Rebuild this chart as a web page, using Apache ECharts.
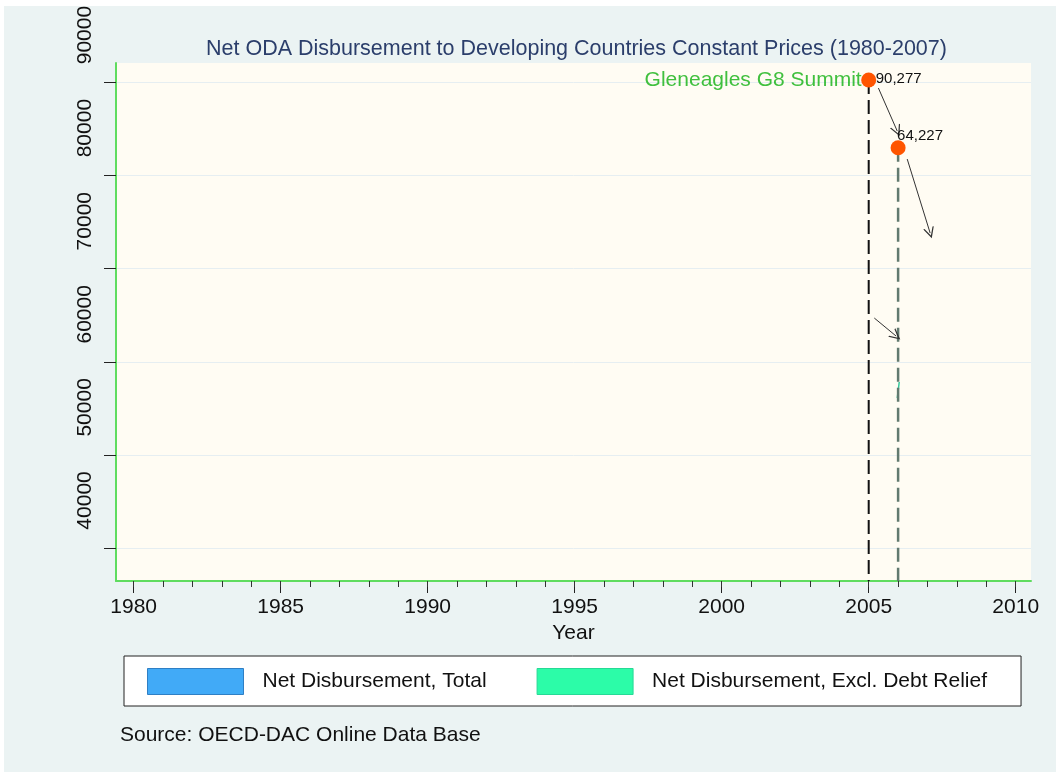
<!DOCTYPE html>
<html>
<head>
<meta charset="utf-8">
<title>Net ODA Disbursement</title>
<script src="https://cdn.jsdelivr.net/npm/echarts@6/dist/echarts.min.js"></script>
<style>
  html, body { margin: 0; padding: 0; background: #fff; }
  #main { width: 1056px; height: 772px; }
</style>
</head>
<body>
<div id="main"></div>
<script>
// axis ticks
var years = [1980, 1981, 1982, 1983, 1984, 1985, 1986, 1987, 1988, 1989, 1990,
    1991, 1992, 1993, 1994, 1995, 1996, 1997, 1998, 1999, 2000,
    2001, 2002, 2003, 2004, 2005, 2006, 2007, 2008, 2009, 2010];
var majorYears = [1980, 1985, 1990, 1995, 2000, 2005, 2010];
var yTicks = [40000, 50000, 60000, 70000, 80000, 90000];

// marked points (drawn position) and the text printed next to them
var markerYears = [2005, 2006];
var markerValues = [90277, 83000];
var markerLabels = ['90,277', '64,227'];
var eventName = 'Gleneagles G8 Summit';

// arrows: start and end points
var arrowFrom = [[2005.33, 89410], [2006.31, 81780], [2005.19, 64700]];
var arrowTo = [[2005.97, 84790], [2007.09, 73830], [2005.93, 62770]];

// the only visible piece of the "excl. debt relief" line
var exclYears = [2006.04, 2005.97];
var exclValues = [57830, 56110];

var seriesNames = ['Net Disbursement, Total', 'Net Disbursement, Excl. Debt Relief'];

var xMin = 1979.4, xMax = 2010.52;
var yMin = 36450, yMax = 92100;

var font = 'Liberation Sans, Arial, Helvetica, sans-serif';
var myChart = echarts.init(document.getElementById('main'));

var arrowHead = 'path://M5,0L10,12L8.8,12L5,3.2L1.2,12L0,12Z';
var plain = function (v) { return String(v); };

var option = {
    backgroundColor: '#fff',
    animation: false,
    textStyle: { fontFamily: font },
    graphic: [{
        type: 'rect', left: 4, top: 6, z: -10, silent: true,
        shape: { width: 1052, height: 766 },
        style: { fill: '#ebf3f3' }
    }],
    title: [{
        text: 'Net ODA Disbursement to Developing Countries Constant Prices (1980-2007)',
        left: 206, top: 38, padding: 0,
        textStyle: { fontSize: 21.5, fontWeight: 'normal', color: '#2b3e6b', fontFamily: font }
    }, {
        text: 'Source: OECD-DAC Online Data Base',
        left: 120, top: 725, padding: 0,
        textStyle: { fontSize: 21, fontWeight: 'normal', color: '#111', fontFamily: font }
    }],
    legend: {
        data: [
            { name: seriesNames[0], icon: 'rect', itemStyle: { color: '#41aaf7', borderColor: '#2f7fc4', borderWidth: 1 } },
            { name: seriesNames[1], icon: 'rect', itemStyle: { color: '#2cfca8', borderColor: '#27d996', borderWidth: 1 } }
        ],
        left: 124, top: 656,
        padding: [12, 34, 11, 23],
        itemWidth: 96, itemHeight: 26, itemGap: 50,
        selectedMode: false,
        backgroundColor: '#fff', borderColor: '#222', borderWidth: 1,
        textStyle: { fontSize: 21, color: '#111', padding: [0, 0, 0, 14], fontFamily: font }
    },
    grid: [
        { left: 116, right: 25, top: 63, bottom: 191, show: true, backgroundColor: '#fffcf3', borderWidth: 0, containLabel: false, outerBoundsMode: 'none' },
        { left: 116, right: 25, top: 63, bottom: 191, containLabel: false, outerBoundsMode: 'none' }
    ],
    xAxis: [{
        type: 'value', gridIndex: 0, min: xMin, max: xMax,
        name: 'Year', nameLocation: 'middle', nameGap: 42,
        nameTextStyle: { fontSize: 21, color: '#111', fontFamily: font },
        axisLine: { show: true, lineStyle: { color: '#5fdc5f', width: 2 } },
        axisTick: { show: true, customValues: majorYears, length: 12, lineStyle: { color: '#222' } },
        axisLabel: { customValues: majorYears, formatter: plain, fontSize: 21, margin: 16, color: '#111', fontFamily: font },
        splitLine: { show: false }
    }, {
        type: 'value', gridIndex: 1, min: xMin, max: xMax,
        axisLine: { show: false },
        axisTick: { show: true, customValues: years, length: 6, lineStyle: { color: '#333' } },
        axisLabel: { show: false },
        splitLine: { show: false }
    }],
    yAxis: [{
        type: 'value', gridIndex: 0, min: yMin, max: yMax,
        axisLine: { show: true, lineStyle: { color: '#5fdc5f', width: 2 } },
        axisTick: { show: true, customValues: yTicks, length: 12, lineStyle: { color: '#222' } },
        axisLabel: {
            customValues: yTicks, formatter: plain, rotate: 90, margin: 20, fontSize: 21, color: '#111',
            padding: [0, 0, 0, 95], fontFamily: font
        },
        splitLine: { show: true, lineStyle: { color: '#e6eef1', width: 1 } }
    }, {
        type: 'value', gridIndex: 1, min: yMin, max: yMax, show: false
    }],
    series: [
        {
            name: seriesNames[0], type: 'line', data: [],
            itemStyle: { color: '#41aaf7' }, symbol: 'none'
        },
        {
            name: seriesNames[1], type: 'line', symbol: 'none', z: 3,
            data: exclYears.map(function (x, i) { return [x, exclValues[i]]; }),
            itemStyle: { color: '#2cfca8' },
            lineStyle: { color: '#35c89c', width: 1.5 }
        },
        {
            name: 'line2005', type: 'line', symbol: 'none', silent: true, z: 3,
            data: [[markerYears[0], markerValues[0]], [markerYears[0], yMin]],
            lineStyle: { color: '#111', width: 2, type: [14, 6] }
        },
        {
            name: 'line2006', type: 'line', symbol: 'none', silent: true, z: 3,
            data: [[markerYears[1], markerValues[1]], [markerYears[1], yMin]],
            lineStyle: { color: '#627a6f', width: 2.5, type: [14, 6] }
        },
        {
            name: 'arrows', type: 'lines', coordinateSystem: 'cartesian2d', silent: true, z: 4,
            symbol: ['none', arrowHead], symbolSize: [9, 11],
            lineStyle: { color: '#333', width: 1, opacity: 1 },
            data: arrowFrom.map(function (p, i) { return { coords: [p, arrowTo[i]] }; })
        },
        {
            name: 'markers', type: 'scatter', symbol: 'circle', symbolSize: 15, z: 5,
            itemStyle: { color: '#ff5500', opacity: 1 },
            data: markerYears.map(function (x, i) {
                var pos = i === 0 ? [14.5, -1.5] : [6.5, -11.5];
                return {
                    value: [x, markerValues[i]],
                    label: {
                        show: true, position: pos, formatter: markerLabels[i],
                        fontSize: 15, color: '#111', fontFamily: font
                    }
                };
            })
        },
        {
            name: 'event', type: 'scatter', symbolSize: 0, z: 5, silent: true,
            data: [[markerYears[0], markerValues[0]]],
            label: {
                show: true, position: 'left', distance: 7, formatter: eventName,
                fontSize: 21, color: '#10b010', fontFamily: font
            }
        }
    ]
};
myChart.setOption(option);
</script>
</body>
</html>
